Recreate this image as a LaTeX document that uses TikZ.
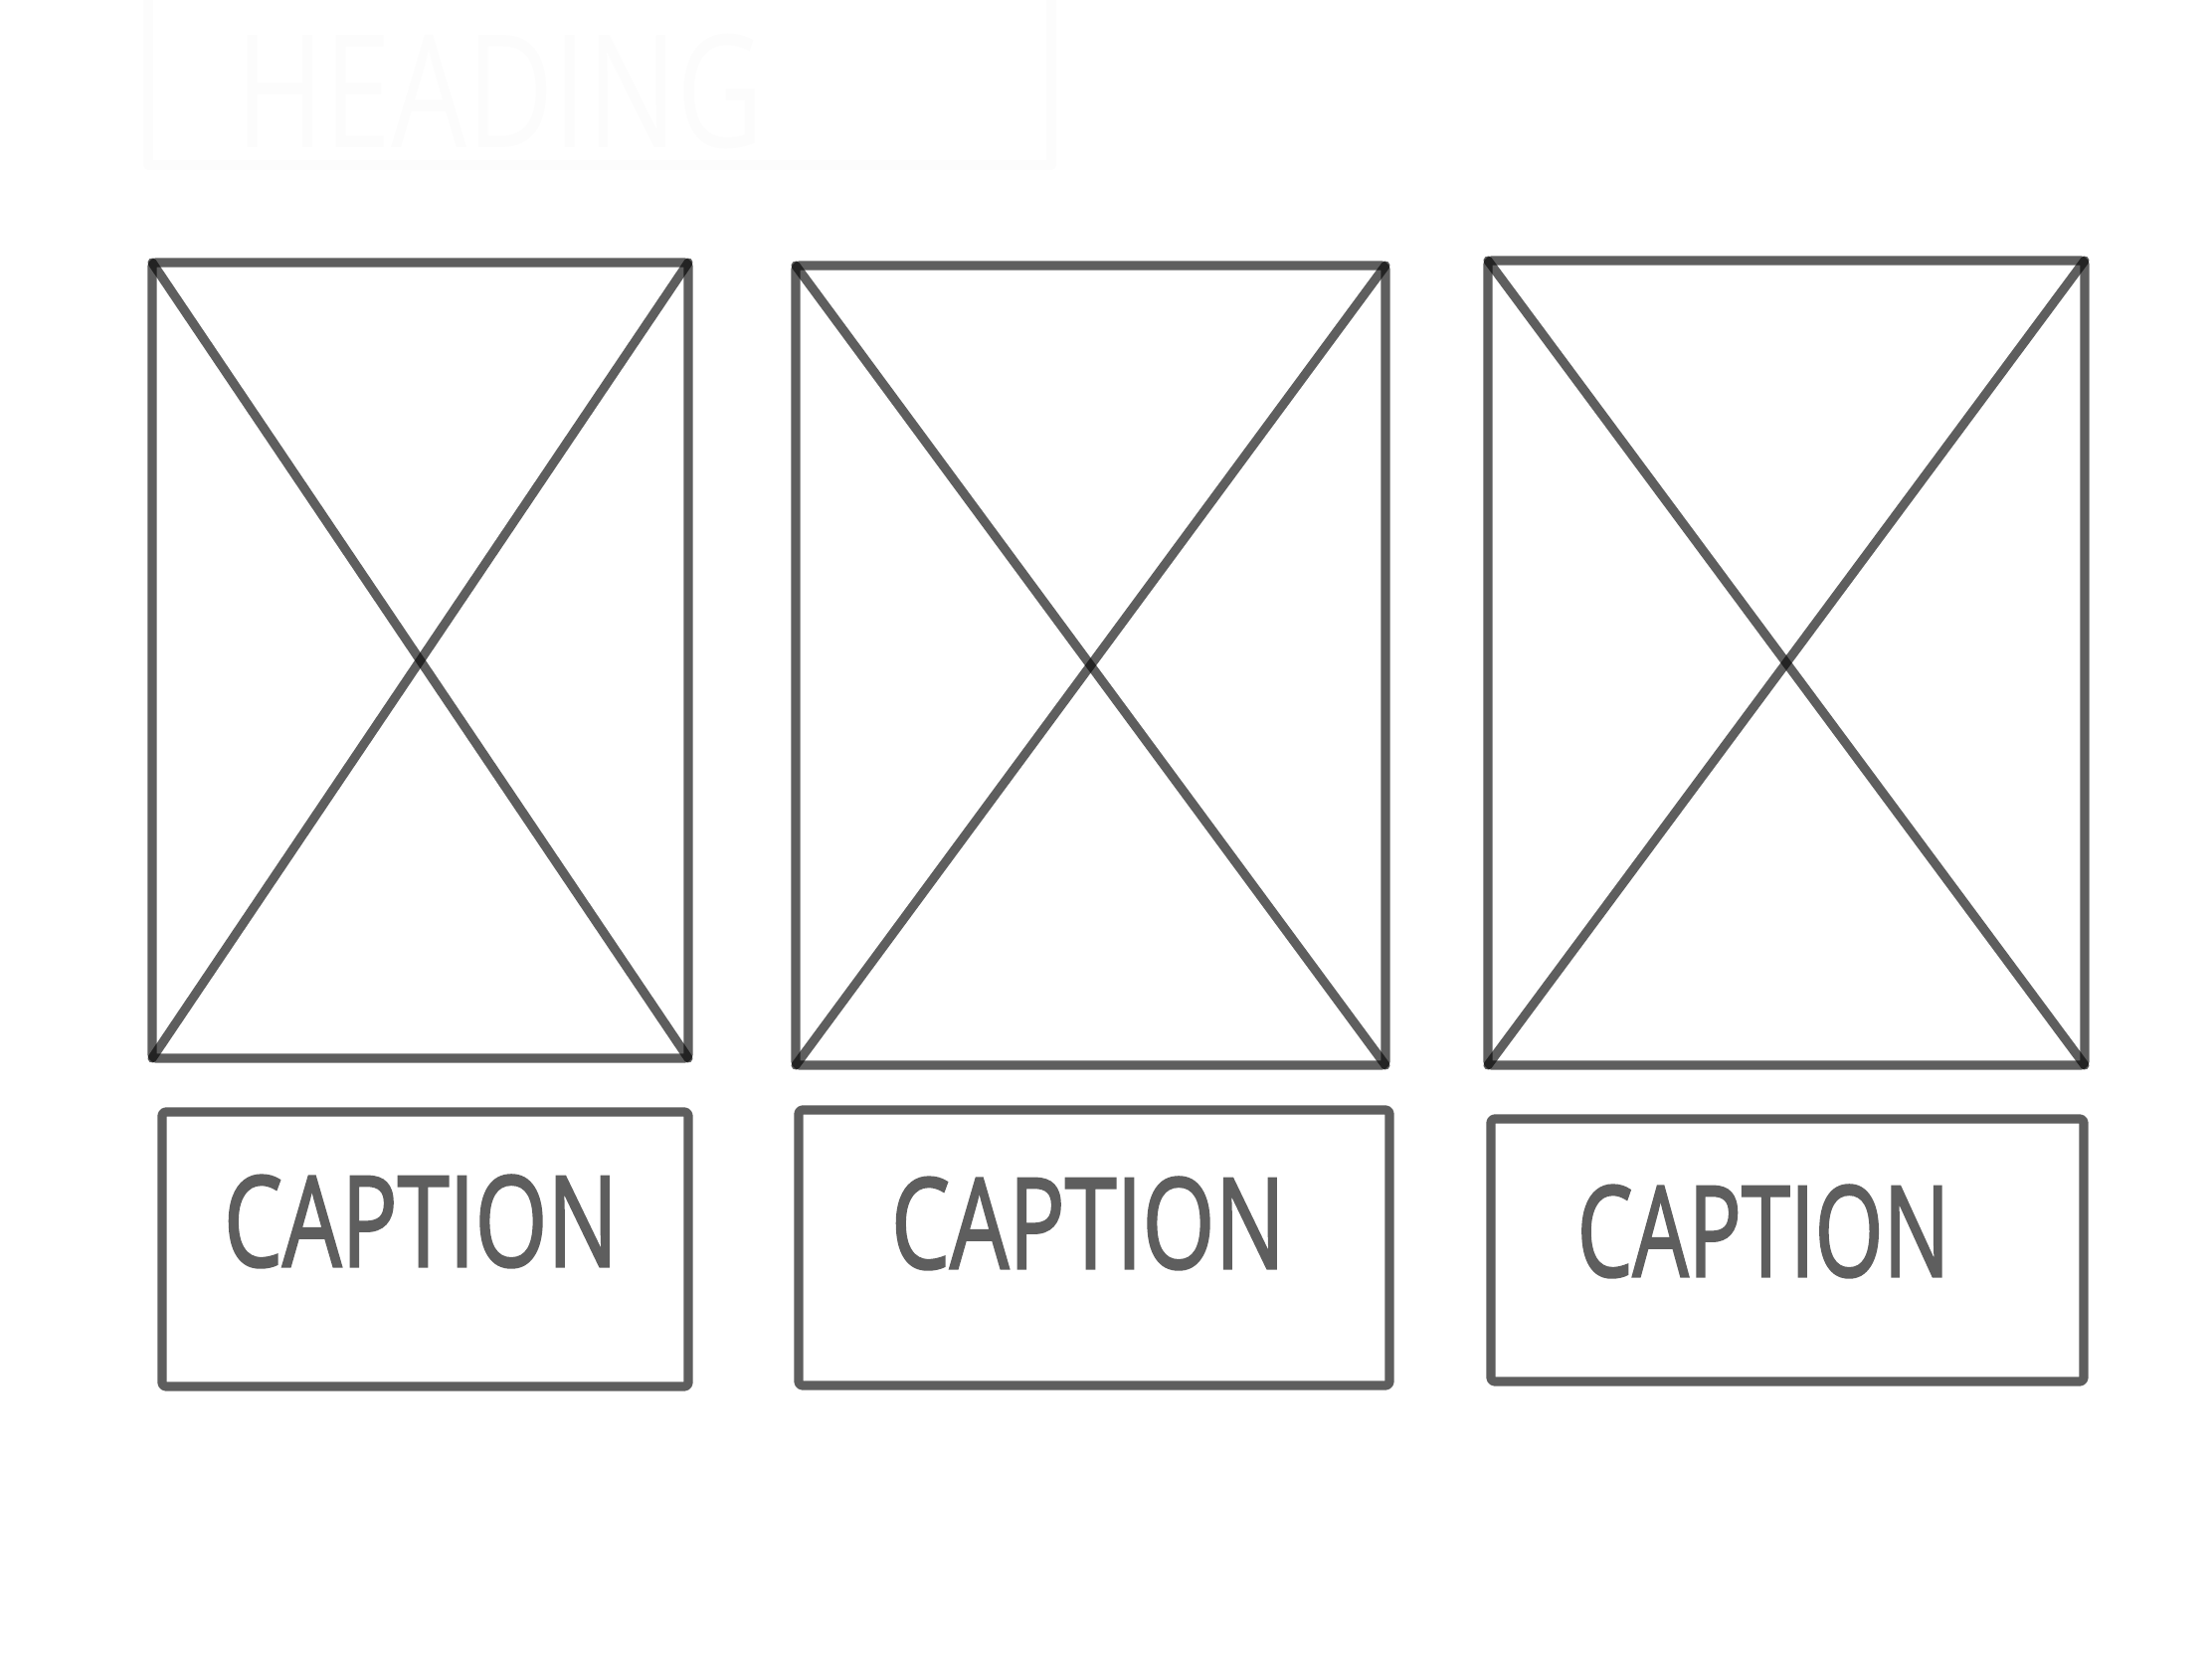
\documentclass[tikz,border=0pt]{standalone}
\usepackage{fontspec}
\setsansfont{Open Sans}
\newfontfamily\scribblefont[FakeBold=2]{Open Sans}
\usepackage{graphicx}
\definecolor{inkgray}{HTML}{5E5E5E}
\definecolor{ghost}{HTML}{FCFCFC}
\begin{document}
\begin{tikzpicture}[
  pen/.style={draw=black,draw opacity=0.63,line width=2.6pt,line cap=round,line join=round},
  frame/.style={pen,rectangle,outer sep=0pt,inner sep=0pt,rounded corners=1pt},
  scribble/.style={text=inkgray,font=\scribblefont\fontsize{36}{40}\selectfont,inner sep=0pt}
]
\useasboundingbox (0,0) rectangle (22.24,16.68);
% faint heading
\draw[draw=ghost,line width=2.6pt,line join=round] (1.49,16.9) -- (1.49,15.02) -- (10.57,15.02) -- (10.57,16.9);
\node[text=ghost,font=\sffamily\fontsize{45}{50}\selectfont,inner sep=0pt] (heading) at (5.03,15.76) {\scalebox{0.76}[1]{HEADING}};
% picture frames
\node[frame,minimum width=5.39cm,minimum height=8.00cm] (pic1) at (4.225,10.04) {};
\node[frame,minimum width=5.93cm,minimum height=8.04cm] (pic2) at (10.965,9.99) {};
\node[frame,minimum width=6.00cm,minimum height=8.09cm] (pic3) at (17.96,10.015) {};
\draw[pen] (pic1.north west) -- (pic1.south east);
\draw[pen] (pic1.south west) -- (pic1.north east);
\draw[pen] (pic2.north west) -- (pic2.south east);
\draw[pen] (pic2.south west) -- (pic2.north east);
\draw[pen] (pic3.north west) -- (pic3.south east);
\draw[pen] (pic3.south west) -- (pic3.north east);
% caption boxes
\node[frame,minimum width=5.29cm,minimum height=2.76cm] (box1) at (4.275,4.12) {};
\node[frame,minimum width=5.94cm,minimum height=2.77cm] (box2) at (11.0,4.135) {};
\node[frame,minimum width=5.96cm,minimum height=2.64cm] (box3) at (17.97,4.11) {};
\node[scribble] (cap1) at (4.23,4.40) {\scalebox{0.74}[1]{CAPTION}};
\node[scribble] (cap2) at (10.94,4.38) {\scalebox{0.74}[1]{CAPTION}};
\node[scribble] (cap3) at (17.73,4.30) {\scalebox{0.70}[1]{CAPTION}};
\end{tikzpicture}
\end{document}
